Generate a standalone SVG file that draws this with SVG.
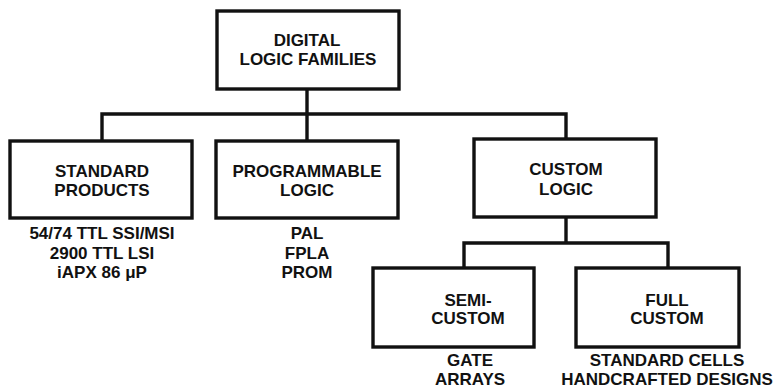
<svg xmlns="http://www.w3.org/2000/svg" width="775" height="388" viewBox="0 0 775 388">
<style>
.box{fill:#fff;stroke:#111;stroke-width:3.4}
.ln{fill:none;stroke:#111;stroke-width:3.4}
text{font-family:"Liberation Sans",Arial,sans-serif;font-weight:bold;font-size:17px;fill:#111;text-anchor:middle}
</style>
<rect width="775" height="388" fill="#fff"/>
<g id="connectors">
<path class="ln" d="M307 89V141M102 141V114H566V139"/>
<path class="ln" d="M566 217V243M464 268V243H668V268"/>
</g>
<g id="digital">
<rect class="box" x="217" y="11" width="182" height="78"/>
<text x="307" y="46">DIGITAL</text>
<text x="308" y="65">LOGIC FAMILIES</text>
</g>
<g id="standard">
<rect class="box" x="10" y="141" width="182" height="77"/>
<text x="102" y="177">STANDARD</text>
<text x="102" y="196">PRODUCTS</text>
<text x="102" y="239">54/74 TTL SSI/MSI</text>
<text x="102" y="259">2900 TTL LSI</text>
<text x="102" y="278">iAPX 86 μP</text>
</g>
<g id="programmable">
<rect class="box" x="216" y="141" width="182" height="77"/>
<text x="307" y="177">PROGRAMMABLE</text>
<text x="307" y="196">LOGIC</text>
<text x="307" y="239">PAL</text>
<text x="307" y="259">FPLA</text>
<text x="307" y="278">PROM</text>
</g>
<g id="custom">
<rect class="box" x="474" y="139" width="182" height="78"/>
<text x="566" y="175">CUSTOM</text>
<text x="566" y="195">LOGIC</text>
</g>
<g id="semi">
<rect class="box" x="373" y="268" width="161" height="79"/>
<text x="468" y="306">SEMI-</text>
<text x="468" y="324">CUSTOM</text>
<text x="470" y="366">GATE</text>
<text x="470" y="385">ARRAYS</text>
</g>
<g id="full">
<rect class="box" x="576" y="268" width="163" height="79"/>
<text x="667" y="306">FULL</text>
<text x="667" y="324">CUSTOM</text>
<text x="667" y="366">STANDARD CELLS</text>
<text x="667" y="385">HANDCRAFTED DESIGNS</text>
</g>
</svg>
